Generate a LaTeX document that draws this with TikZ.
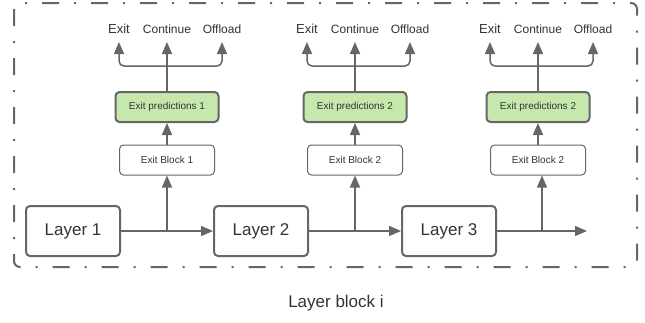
\documentclass[tikz,border=0pt]{standalone}
\usepackage{fontspec}
\setmainfont{Liberation Sans}
\usetikzlibrary{arrows.meta,positioning}
\definecolor{ln}{HTML}{666666}
\definecolor{txt}{HTML}{333333}
\definecolor{predgreen}{HTML}{C7E8AC}

\begin{document}
\begin{tikzpicture}[x=1pt,y=-1pt]
\tikzset{lyr/.style={draw=ln, line width=2pt, rounded corners=4pt, minimum width=94pt, minimum height=50pt, font=\fontsize{17}{20}\selectfont}}
\tikzset{eblk/.style={draw=ln, line width=1pt, rounded corners=4pt, minimum width=95pt, minimum height=30pt, font=\fontsize{10}{12}\selectfont}}
\tikzset{epred/.style={eblk, fill=predgreen, line width=2pt, minimum width=103pt}}
\tikzset{outlbl/.style={anchor=south, inner xsep=0pt, inner ysep=8.5pt, font=\fontsize{12}{14}\selectfont}}
\tikzset{exitlbl/.style={outlbl, inner ysep=8pt, font=\fontsize{13}{15}\selectfont}}
\tikzset{arr/.style={draw=ln, line width=1.5pt, -{Triangle[length=12pt,width=10pt]}}}

\useasboundingbox (0,0) rectangle (645,322);

% frame of the block
\draw[ln, line width=2pt, dash pattern=on 17pt off 15pt on 2pt off 15pt, rounded corners=6pt] (14,3) rectangle (637,267);

\begin{scope}[every node/.style={text=txt}]
\node [lyr] (L1) at (73,231) {Layer 1};
\node [lyr] (L2) at (261,231) {Layer 2};
\node [lyr] (L3) at (449,231) {Layer 3};
\node [eblk] (EB1) at (167,160) {Exit Block 1};
\node [eblk] (EB2) at (355,160) {Exit Block 2};
\node [eblk] (EB3) at (538,160) {Exit Block 2};
\node [epred] (EP1) at (167,107) {Exit predictions 1};
\node [epred] (EP2) at (355,107) {Exit predictions 2};
\node [epred] (EP3) at (538,107) {Exit predictions 2};
\node [exitlbl] (X1) at (119,42) {Exit};
\node [outlbl] (C1) at (167,42) {Continue};
\node [outlbl] (O1) at (222,42) {Offload};
\node [exitlbl] (X2) at (307,42) {Exit};
\node [outlbl] (C2) at (355,42) {Continue};
\node [outlbl] (O2) at (410,42) {Offload};
\node [exitlbl] (X3) at (490,42) {Exit};
\node [outlbl] (C3) at (538,42) {Continue};
\node [outlbl] (O3) at (593,42) {Offload};
\node [font=\fontsize{17}{20}\selectfont] (cap) at (336,303) {Layer block i};
\end{scope}

\coordinate (B1) at (167,231);
\coordinate (B2) at (355,231);
\coordinate (B3) at (542,231);
\coordinate (END) at (587,231);
\coordinate (J1) at (167,66);
\coordinate (J2) at (355,66);
\coordinate (J3) at (538,66);

% main line
\draw[arr] (L1) -- (L2);
\draw[arr] (L2) -- (L3);
\draw[arr] (L3) -- (END);
\draw[arr] (B1) -- (EB1);
\draw[arr] (B2) -- (EB2);
\draw[arr] (B3) -- (B3 |- EB3.south);
\draw[arr] (EB1) -- (EP1);
\draw[arr] (EB2) -- (EP2);
\draw[arr] (EB3) -- (EP3);

% exit choices
\draw[ln, line width=1.5pt] (EP1) -- (J1);
\draw[arr, rounded corners=5pt] (J1) -| (X1.south);
\draw[arr] (J1) -- (C1.south);
\draw[arr, rounded corners=5pt] (J1) -| (O1.south);
\draw[ln, line width=1.5pt] (EP2) -- (J2);
\draw[arr, rounded corners=5pt] (J2) -| (X2.south);
\draw[arr] (J2) -- (C2.south);
\draw[arr, rounded corners=5pt] (J2) -| (O2.south);
\draw[ln, line width=1.5pt] (EP3) -- (J3);
\draw[arr, rounded corners=5pt] (J3) -| (X3.south);
\draw[arr] (J3) -- (C3.south);
\draw[arr, rounded corners=5pt] (J3) -| (O3.south);

\end{tikzpicture}
\end{document}
